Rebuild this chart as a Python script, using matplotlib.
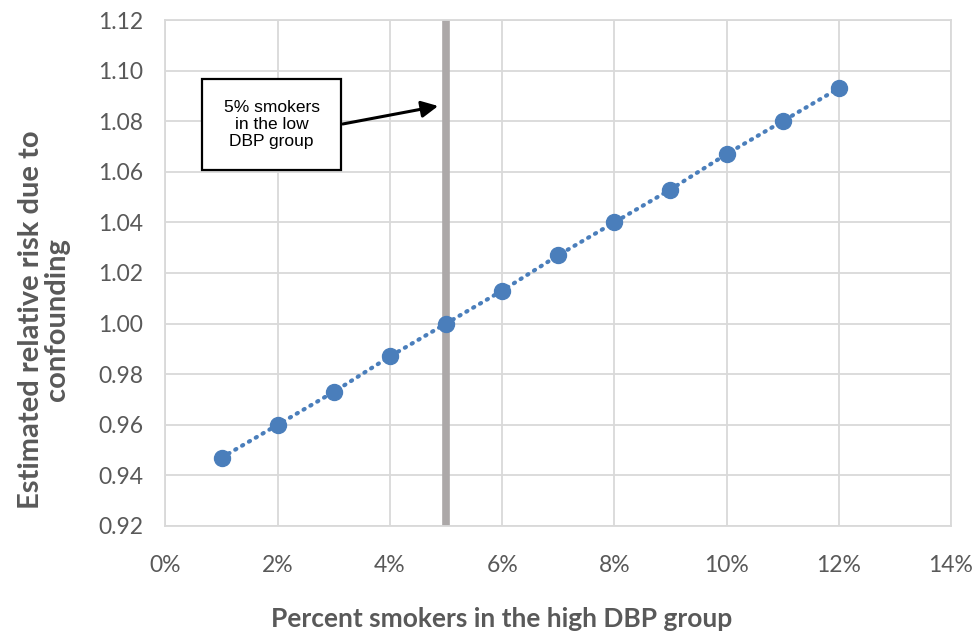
import matplotlib.pyplot as plt
from matplotlib.patches import Rectangle
from matplotlib.ticker import PercentFormatter, MultipleLocator

# percent smokers in the high DBP group (fraction) and estimated relative risk
pct_high = [0.01, 0.02, 0.03, 0.04, 0.05, 0.06, 0.07, 0.08, 0.09, 0.10, 0.11, 0.12]
rel_risk = [0.947, 0.960, 0.973, 0.987, 1.000, 1.013, 1.027, 1.040, 1.053, 1.067, 1.080, 1.093]
low_group_pct = 0.05
note_text = "5% smokers\nin the low\nDBP group"

blue = '#4a7ebb'
grid_col = '#d9d9d9'
txt_col = '#595959'

fig = plt.figure(figsize=(9.78, 6.37), dpi=100)
ax = fig.add_axes([0.1692, 0.1743, 0.8032, 0.7943])

ax.set_xlim(0, 0.14)
ax.set_ylim(0.92, 1.12)
ax.xaxis.set_major_locator(MultipleLocator(0.02))
ax.yaxis.set_major_locator(MultipleLocator(0.02))
ax.xaxis.set_major_formatter(PercentFormatter(1.0, decimals=0))
ax.yaxis.set_major_formatter(lambda v, p: f"{v:.2f}")
ax.grid(True, color=grid_col, linewidth=1.3)
ax.set_axisbelow(True)
for s in ax.spines.values():
    s.set_color(grid_col)
    s.set_linewidth(1.3)
ax.tick_params(length=0, colors=txt_col, labelsize=16.5)
ax.tick_params(axis='x', pad=21)
ax.tick_params(axis='y', pad=16)
for lab in ax.get_xticklabels() + ax.get_yticklabels():
    lab.set_family('Lato')

# vertical reference line at the low-group percentage
ax.axvline(low_group_pct, color='#aca8a8', linewidth=5.5, zorder=2)

ax.plot(pct_high, rel_risk, linestyle=(0, (0.3, 1.6)), color=blue, linewidth=3,
        dash_capstyle='round', zorder=3)
ax.plot(pct_high, rel_risk, linestyle='none', marker='o', markersize=11.5,
        markerfacecolor=blue, markeredgecolor=blue, zorder=4)

# callout box, text and arrow
ax.add_patch(Rectangle((0.0065, 1.0607), 0.0248, 0.036, facecolor='white',
                       edgecolor='black', linewidth=1.6, zorder=5))
ax.text(0.0189, 1.0787, note_text, ha='center', va='center', fontsize=12.5,
        family='Liberation Sans', linespacing=1.15, zorder=6)
ax.annotate('', xy=(0.0486, 1.086), xytext=(0.0316, 1.0789),
            arrowprops=dict(arrowstyle='-|>,head_length=1.0,head_width=0.5', color='black',
                            linewidth=2.2, shrinkA=0, shrinkB=0),
            zorder=6)

ax.set_xlabel('Percent smokers in the high DBP group', fontsize=19, fontweight='bold',
              color=txt_col, family='Lato')
ax.xaxis.set_label_coords(0.428, -0.16)
ax.set_ylabel('Estimated relative risk due to\nconfounding', fontsize=21, fontweight='bold',
              color=txt_col, family='Lato', linespacing=1.0)
ax.yaxis.set_label_coords(-0.122, 0.407)

fig.savefig('out.png', dpi=100)
